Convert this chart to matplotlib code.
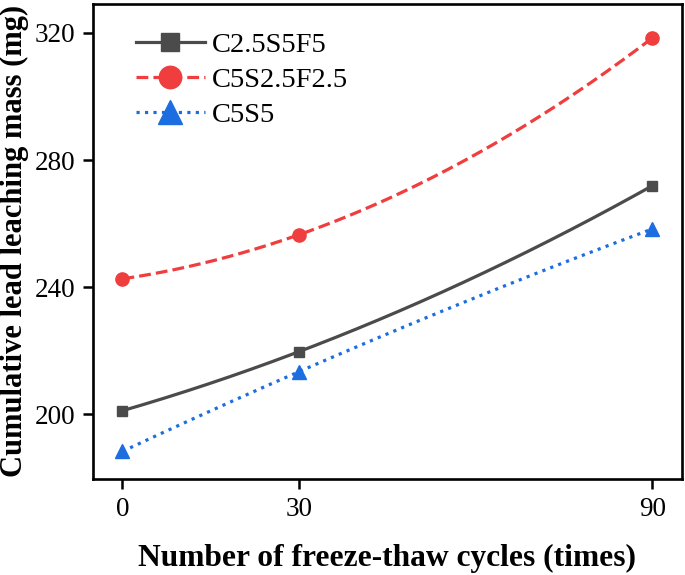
import matplotlib.pyplot as plt
import numpy as np

plt.rcParams['font.family'] = ['Liberation Serif', 'DejaVu Serif']

cycles = [0, 30, 90]
names = ['C2.5S5F5', 'C5S2.5F2.5', 'C5S5']
c25s5f5 = [201.1, 219.7, 271.9]
c5s25f25 = [242.6, 256.5, 318.4]
c5s5 = [188.3, 213.4, 258.3]

colors = ['#4b4b4b', '#f03d3d', '#1c6ee0']
styles = ['-', '--', ':']
markers = ['s', 'o', '^']
msizes = [7.5, 9.5, 10.5]

fig = plt.figure(figsize=(6.85, 5.75), dpi=100)
ax = fig.add_axes([0.1358, 0.1675, 0.8594, 0.8255])

xs = np.array(cycles, dtype=float)
xx = np.linspace(xs[0], xs[-1], 200)
for vals, name, c, ls, m, ms in zip([c25s5f5, c5s25f25, c5s5], names, colors, styles, markers, msizes):
    # smooth curve through the three points (quadratic)
    coef = np.polyfit(xs, vals, 2)
    ax.plot(xx, np.polyval(coef, xx), color=c, ls=ls, lw=2.3)
    ax.plot(xs, vals, ls='none', marker=m, ms=ms, color=c)
    ax.plot([], [], color=c, ls=ls, lw=2.3, marker=m, ms=ms, label=name)

ax.set_xlim(-5, 95)
ax.set_ylim(179.7, 329.1)
ax.set_xticks(cycles)
ax.set_yticks([200, 240, 280, 320])
ax.tick_params(direction='out', length=7, width=1.8, labelsize=19.5, pad=6)
for s in ax.spines.values():
    s.set_linewidth(1.9)

ax.set_xlabel('Number of freeze-thaw cycles (times)', fontsize=22.7, fontweight='bold', labelpad=16)
ax.set_ylabel('Cumulative lead leaching mass (mg)', fontsize=22, fontweight='bold', labelpad=4)

ax.legend(loc='upper left', bbox_to_anchor=(0.03, 0.995), frameon=False, fontsize=20.5,
          handlelength=2.4, handletextpad=0.25, labelspacing=0.32, markerscale=1.7)

plt.savefig('out.png', dpi=100)
